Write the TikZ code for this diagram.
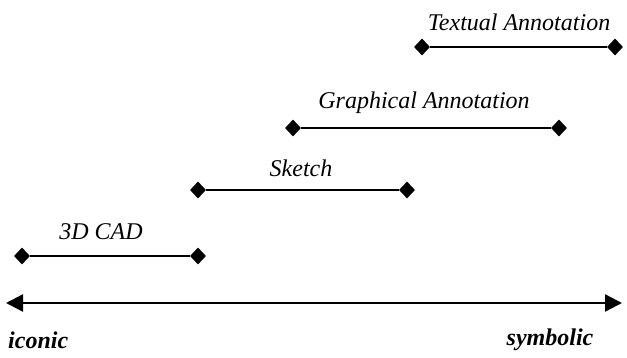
\documentclass[tikz,border=0pt]{standalone}
\usepackage{fontspec}
\setmainfont{Liberation Serif}
\usetikzlibrary{arrows.meta,shapes.geometric}
\begin{document}
\begin{tikzpicture}[x=1pt,y=-1pt,
  dia/.style={diamond,fill=black,inner sep=0pt,minimum width=16pt,minimum height=17pt},
  seg/.style={line width=2.4pt},
  lbl/.style={font=\itshape\fontsize{24}{28}\selectfont,inner sep=0pt},
  endlbl/.style={font=\bfseries\itshape\fontsize{24}{28}\selectfont,inner sep=0pt}]
\useasboundingbox (0,0) rectangle (627,358);
% Textual Annotation
\node[dia] (ta1) at (422,47) {};
\node[dia] (ta2) at (615,47) {};
\draw[seg] (ta1) -- (ta2);
\node[lbl] (tal) at (519,22) {Textual Annotation};
% Graphical Annotation
\node[dia] (ga1) at (293,128) {};
\node[dia] (ga2) at (559,128) {};
\draw[seg] (ga1) -- (ga2);
\node[lbl] (gal) at (424,103) {Graphical Annotation};
% Sketch
\node[dia] (sk1) at (198,190) {};
\node[dia] (sk2) at (407,190) {};
\draw[seg] (sk1) -- (sk2);
\node[lbl] (skl) at (301,168) {Sketch};
% 3D CAD
\node[dia] (cd1) at (22,256) {};
\node[dia] (cd2) at (198,256) {};
\draw[seg] (cd1) -- (cd2);
\node[lbl] (cdl) at (101,232) {3D CAD};
% main axis
\coordinate (axl) at (6,303);
\coordinate (axr) at (622,303);
\draw[seg,{Triangle[length=17pt,width=17pt]}-{Triangle[length=17pt,width=17pt]}] (axl) -- (axr);
\node[endlbl,anchor=west] (ic) at (8,340) {iconic};
\node[endlbl] (sy) at (550,340) {symbolic};
\end{tikzpicture}
\end{document}
